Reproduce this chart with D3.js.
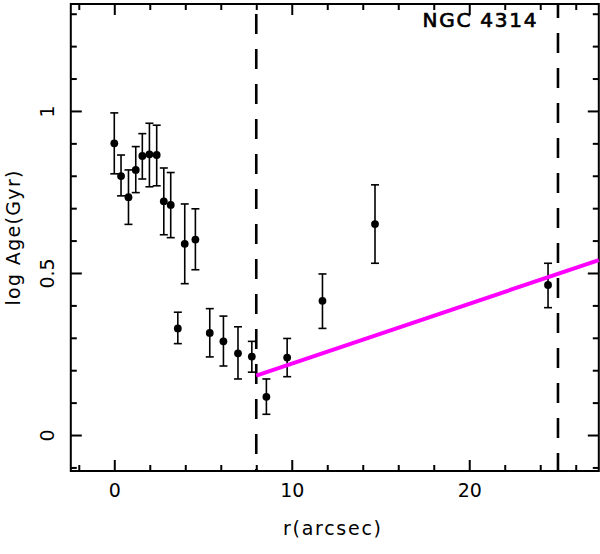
<!DOCTYPE html>
<html>
<head>
<meta charset="utf-8">
<script src="https://cdn.jsdelivr.net/npm/d3@7"></script>
<style>
  body { margin: 0; background: #fff; }
  text { font-family: "DejaVu Sans", sans-serif; fill: #000; }
</style>
</head>
<body>
<svg id="chart"></svg>
<script>
const width = 600;
const height = 554;
const margin = {top: 4, right: 1.2, bottom: 83, left: 70.8};

// radius (arcsec), log age and error bar ends
const radius = [0, 0.38, 0.80, 1.21, 1.58, 1.98, 2.39, 2.79, 3.18, 3.58, 3.97, 4.57, 5.38, 6.15, 6.97, 7.75, 8.57, 9.74, 11.73, 14.69, 24.44];
const logAge = [0.900, 0.799, 0.734, 0.818, 0.861, 0.866, 0.864, 0.721, 0.710, 0.329, 0.590, 0.603, 0.315, 0.289, 0.252, 0.242, 0.118, 0.239, 0.414, 0.651, 0.463];
const errHigh = [0.994, 0.864, 0.818, 0.890, 0.930, 0.962, 0.956, 0.824, 0.810, 0.379, 0.713, 0.698, 0.390, 0.367, 0.334, 0.289, 0.173, 0.298, 0.497, 0.772, 0.530];
const errLow = [0.806, 0.738, 0.650, 0.748, 0.790, 0.766, 0.769, 0.618, 0.609, 0.282, 0.467, 0.510, 0.241, 0.213, 0.173, 0.194, 0.064, 0.180, 0.329, 0.530, 0.393];

// linear fit outside the bulge
const fitR = [8, 27.3];
const fitAge = [0.183, 0.540];

// dashed markers
const markR = [8, 25];

const xMajor = [0, 10, 20];
const xMinor = [-2, 2, 4, 6, 8, 12, 14, 16, 18, 22, 24, 26];
const yMajor = [0, 0.5, 1];
const yMinor = [-0.1, 0.1, 0.2, 0.3, 0.4, 0.6, 0.7, 0.8, 0.9, 1.1, 1.2, 1.3];

const svg = d3.select('#chart')
    .attr('width', width)
    .attr('height', height);

const x = d3.scaleLinear().domain([-2.45, 27.3]).range([margin.left, width - margin.right]);
const y = d3.scaleLinear().domain([-0.111, 1.330]).range([height - margin.bottom, margin.top]);

const x0 = margin.left, x1 = width - margin.right;
const y0 = height - margin.bottom, y1 = margin.top;

function styleAxis(g){
    g.select('.domain').remove();
    g.selectAll('line').attr('stroke', '#000').attr('stroke-width', 2);
}

// ticks, pointing inward on all four sides
svg.append('g').attr('transform', `translate(0, ${y0})`)
    .call(d3.axisBottom(x).tickValues(xMajor).tickSizeInner(-11).tickSizeOuter(0).tickPadding(13))
    .call(styleAxis)
    .selectAll('text').style('font-size', '19px').style('font-family', '"DejaVu Sans", sans-serif');
svg.append('g').attr('transform', `translate(0, ${y0})`)
    .call(d3.axisBottom(x).tickValues(xMinor).tickSizeInner(-6).tickSizeOuter(0).tickFormat(''))
    .call(styleAxis);
svg.append('g').attr('transform', `translate(0, ${y1})`)
    .call(d3.axisTop(x).tickValues(xMajor).tickSizeInner(-11).tickSizeOuter(0).tickFormat(''))
    .call(styleAxis);
svg.append('g').attr('transform', `translate(0, ${y1})`)
    .call(d3.axisTop(x).tickValues(xMinor).tickSizeInner(-6).tickSizeOuter(0).tickFormat(''))
    .call(styleAxis);

const yAxis = svg.append('g').attr('transform', `translate(${x0}, 0)`)
    .call(d3.axisLeft(y).tickValues(yMajor).tickSizeInner(-11).tickSizeOuter(0).tickFormat(d3.format('')))
    .call(styleAxis);
yAxis.selectAll('text')
    .attr('transform', 'rotate(-90)')
    .attr('x', 0).attr('y', -17).attr('dy', 0)
    .attr('text-anchor', 'middle')
    .style('font-size', '19px').style('font-family', '"DejaVu Sans", sans-serif');
svg.append('g').attr('transform', `translate(${x0}, 0)`)
    .call(d3.axisLeft(y).tickValues(yMinor).tickSizeInner(-6).tickSizeOuter(0).tickFormat(''))
    .call(styleAxis);
svg.append('g').attr('transform', `translate(${x1}, 0)`)
    .call(d3.axisRight(y).tickValues(yMajor).tickSizeInner(-11).tickSizeOuter(0).tickFormat(''))
    .call(styleAxis);
svg.append('g').attr('transform', `translate(${x1}, 0)`)
    .call(d3.axisRight(y).tickValues(yMinor).tickSizeInner(-6).tickSizeOuter(0).tickFormat(''))
    .call(styleAxis);

// frame
svg.append('rect')
    .attr('x', x0).attr('y', y1)
    .attr('width', x1 - x0).attr('height', y0 - y1)
    .attr('fill', 'none')
    .attr('stroke', '#000')
    .attr('stroke-width', 2);

// dashed verticals
svg.selectAll('.mark')
    .data(markR)
    .enter()
    .append('line')
    .attr('class', 'mark')
    .attr('x1', d => x(d)).attr('x2', d => x(d))
    .attr('y1', y1).attr('y2', y0)
    .attr('stroke', '#000')
    .attr('stroke-width', 2.6)
    .attr('stroke-dasharray', '20,15')
    .attr('stroke-dashoffset', (d, i) => i == 0 ? 25 : 6);

// error bars
const pts = radius.map((r, i) => ({r: r, age: logAge[i], hi: errHigh[i], lo: errLow[i]}));
const cap = 4;
const bars = svg.append('g').attr('stroke', '#000').attr('stroke-width', 1.6);
bars.selectAll('.err')
    .data(pts).enter().append('line')
    .attr('x1', d => x(d.r)).attr('x2', d => x(d.r))
    .attr('y1', d => y(d.hi)).attr('y2', d => y(d.lo));
bars.selectAll('.capHi')
    .data(pts).enter().append('line')
    .attr('x1', d => x(d.r) - cap).attr('x2', d => x(d.r) + cap)
    .attr('y1', d => y(d.hi)).attr('y2', d => y(d.hi));
bars.selectAll('.capLo')
    .data(pts).enter().append('line')
    .attr('x1', d => x(d.r) - cap).attr('x2', d => x(d.r) + cap)
    .attr('y1', d => y(d.lo)).attr('y2', d => y(d.lo));

svg.selectAll('circle')
    .data(pts).enter().append('circle')
    .attr('cx', d => x(d.r))
    .attr('cy', d => y(d.age))
    .attr('r', 3.9)
    .attr('fill', '#000');

// fit line
svg.append('path')
    .datum(fitR.map((r, i) => [r, fitAge[i]]))
    .attr('fill', 'none')
    .attr('stroke', '#ff00ff')
    .attr('stroke-width', 4)
    .attr('d', d3.line().x(d => x(d[0])).y(d => y(d[1])));

// labels
svg.append('text')
    .attr('x', 332).attr('y', 535)
    .attr('text-anchor', 'middle')
    .attr('textLength', 98)
    .style('font-size', '19px')
    .text('r(arcsec)');

svg.append('text')
    .attr('transform', 'translate(20, 238) rotate(-90)')
    .attr('text-anchor', 'middle')
    .attr('textLength', 135)
    .style('font-size', '19px')
    .text('log Age(Gyr)');

svg.append('text')
    .attr('x', 422.5).attr('y', 27.4)
    .attr('textLength', 114)
    .style('font-size', '20px')
    .style('stroke', '#000')
    .style('stroke-width', 0.7)
    .text('NGC 4314');
</script>
</body>
</html>
